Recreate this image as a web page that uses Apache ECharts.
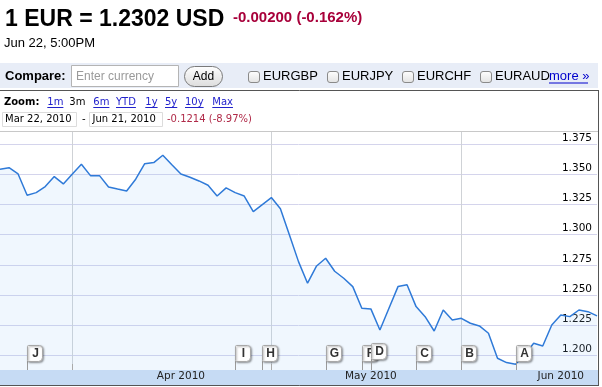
<!DOCTYPE html>
<html><head><meta charset="utf-8">
<script src="https://cdn.jsdelivr.net/npm/echarts@6/dist/echarts.min.js"></script>
<style>html,body{margin:0;padding:0;background:#fff;overflow:hidden}#c{width:602px;height:387px}</style>
</head><body><div id="c"></div>
<script>
// ---- data ----
const categories = ['Mar 22','Mar 23','Mar 24','Mar 25','Mar 26','Mar 29','Mar 30','Mar 31',
 'Apr 1','Apr 2','Apr 5','Apr 6','Apr 7','Apr 8','Apr 9','Apr 12','Apr 13','Apr 14','Apr 15','Apr 16','Apr 19','Apr 20','Apr 21','Apr 22','Apr 23','Apr 26','Apr 27','Apr 28','Apr 29','Apr 30',
 'May 3','May 4','May 5','May 6','May 7','May 10','May 11','May 12','May 13','May 14','May 17','May 18','May 19','May 20','May 21','May 24','May 25','May 26','May 27','May 28','May 31',
 'Jun 1','Jun 2','Jun 3','Jun 4','Jun 7','Jun 8','Jun 9','Jun 10','Jun 11','Jun 14','Jun 15','Jun 16','Jun 17','Jun 18','Jun 21','Jun 22'];
const rates = [1.3542,1.3556,1.3504,1.3327,1.3349,1.3399,1.3482,1.3421,
 1.3504,1.3584,1.3490,1.3490,1.3396,1.3379,1.3363,1.3460,1.3589,1.3598,1.3659,1.3581,1.3504,1.3476,1.3446,1.3410,1.3321,1.3388,1.3349,1.3321,1.3192,1.3250,
 1.3308,1.3216,1.2998,1.2777,1.2598,1.2741,1.2805,1.2697,1.2639,1.2570,1.2390,1.2385,1.2210,1.2390,1.2570,1.2586,1.2404,1.2321,1.2202,1.2376,1.2293,
 1.2307,1.2266,1.2244,1.2183,1.1976,1.1940,1.1926,1.2005,1.2100,1.2078,1.2252,1.2335,1.2321,1.2376,1.2362,1.2327];
const yMin = 1.175, yMax = 1.386, yStep = 0.025;
const monthStarts = ['Apr 1','May 3','Jun 1'];
const monthLabels = ['Apr 2010','May 2010','Jun 2010'];
const monthLabelPos = [19.85, 41.4, 62];
const flagLetters = ['J','I','H','G','F','D','C','B','A'];
const flagDates = ['Mar 25','Apr 27','Apr 30','May 11','May 17','May 18','May 25','Jun 1','Jun 9'];
const zoomLinks = ['1m','3m','6m','YTD','1y','5y','10y','Max'];
const compareSymbols = ['EURGBP','EURJPY','EURCHF','EURAUD'];
const headline = '1 EUR = 1.2302 USD';
const headChange = '-0.00200 (-0.162%)';
const headTime = 'Jun 22, 5:00PM';
const rangeFrom = 'Mar 22, 2010', rangeTo = 'Jun 21, 2010', rangeChange = '-0.1214 (-8.97%)';

// ---- build ----
const monthStartIdx = monthStarts.map(d => categories.indexOf(d));
const flagIdx = flagDates.map(d => categories.indexOf(d));
const SANS = '"Liberation Sans", Arial, sans-serif';
const VER = '"DejaVu Sans", Verdana, sans-serif';
function T(text, x, y, font, fill, align) {
  return {type:'text', z:50, style:{text:text, x:x, y:y, font:font, fill:fill||'#000', align:align||'left', verticalAlign:'middle'}, silent:true};
}
const g = [];
g.push(T(headline, 5, 19.3, 'bold 23px ' + SANS, '#000'));
g.push(T(headChange, 233, 18.3, 'bold 15px ' + SANS, '#a8003a'));
g.push(T(headTime, 4, 43.2, '13px ' + SANS, '#000'));
// compare bar
g.push({type:'rect', z:40, shape:{x:0, y:63, width:598, height:25}, style:{fill:'#e8edf7'}});
g.push(T('Compare:', 5, 76.2, 'bold 13px ' + SANS, '#000'));
g.push({type:'rect', z:41, shape:{x:71.5, y:65.5, width:107, height:21}, style:{fill:'#fff', stroke:'#b4b4b4', lineWidth:1}});
g.push(T('Enter currency', 76, 76.2, '12px ' + SANS, '#9a9a9a'));
g.push({type:'rect', z:41, shape:{x:184.5, y:66.5, width:38, height:20, r:10},
  style:{fill:new echarts.graphic.LinearGradient(0,0,0,1,[{offset:0,color:'#ffffff'},{offset:1,color:'#dcdcdc'}]), stroke:'#7a7a7a', lineWidth:1}});
g.push(T('Add', 203.5, 76.8, '12px ' + SANS, '#000', 'center'));
const cbX = [248.5, 327.5, 402.5, 480.5];
compareSymbols.forEach((s, i) => {
  g.push({type:'rect', z:41, shape:{x:cbX[i], y:71.5, width:11, height:11, r:2.5},
    style:{fill:new echarts.graphic.LinearGradient(0,0,0,1,[{offset:0,color:'#ffffff'},{offset:1,color:'#e2e2e2'}]), stroke:'#8a8a8a', lineWidth:1}});
  g.push(T(s, cbX[i] + 14.5, 76.2, '13px ' + SANS, '#000'));
});
g.push(T('more »', 549, 76.2, '13px ' + SANS, '#0000cc'));
g.push({type:'line', z:41, shape:{x1:549, y1:83, x2:588, y2:83}, style:{stroke:'#0000cc', lineWidth:1}});
// separator
g.push({type:'line', z:41, shape:{x1:0, y1:90.5, x2:599, y2:90.5}, style:{stroke:'#555', lineWidth:1}});
// zoom row
g.push(T('Zoom:', 4, 102, 'bold 10px ' + VER, '#000'));
const zoomX = [47.3, 69.3, 93.3, 116, 145.3, 165, 185, 212.3];
zoomLinks.forEach((s, i) => {
  const link = s !== '3m';
  g.push(T(s, zoomX[i], 102, '10px ' + VER, link ? '#2222cc' : '#000'));
  if (link) {
    const w = echarts.format.getTextRect ? echarts.format.getTextRect(s, '10px ' + VER).width : s.length * 6.5;
    g.push({type:'line', z:41, shape:{x1:zoomX[i], y1:107.5, x2:zoomX[i] + w, y2:107.5}, style:{stroke:'#2222cc', lineWidth:1}});
  }
});
// date range row
g.push({type:'rect', z:41, shape:{x:2.5, y:112.5, width:74, height:14}, style:{fill:'#fff', stroke:'#dcdcdc', lineWidth:1}});
g.push(T(rangeFrom, 5, 119.3, '10px ' + VER, '#000'));
g.push(T('-', 82, 119.3, '10px ' + VER, '#000'));
g.push({type:'rect', z:41, shape:{x:89.5, y:112.5, width:73, height:14}, style:{fill:'#fff', stroke:'#dcdcdc', lineWidth:1}});
g.push(T(rangeTo, 92.5, 119.3, '10px ' + VER, '#000'));
g.push(T(rangeChange, 167, 119.3, '10px ' + VER, '#b02a48'));
// chart frame
g.push({type:'line', z:9, shape:{x1:0, y1:131.5, x2:598, y2:131.5}, style:{stroke:'#c8c8c8', lineWidth:1}});
g.push({type:'rect', z:10, shape:{x:0, y:370, width:598, height:15}, style:{fill:'#c6dbf4'}});
g.push({type:'line', z:11, shape:{x1:0, y1:385.5, x2:599, y2:385.5}, style:{stroke:'#555', lineWidth:1}});
g.push({type:'line', z:11, shape:{x1:598.5, y1:90, x2:598.5, y2:386}, style:{stroke:'#555', lineWidth:1}});

const chart = echarts.init(document.getElementById('c'), null, {renderer:'canvas'});
chart.setOption({
  animation:false,
  grid:{left:0, right:5, top:131, bottom:1.5},
  xAxis:{type:'category', data:categories, boundaryGap:false,
    axisLine:{show:false}, axisTick:{show:false}, axisLabel:{show:false},
    splitLine:{show:true, interval:(i) => monthStartIdx.indexOf(i) >= 0, lineStyle:{color:'#cfd2d6', width:1}}},
  yAxis:{type:'value', position:'right', min:yMin, max:yMax, interval:yStep,
    axisLine:{show:false}, axisTick:{show:false},
    axisLabel:{inside:true, margin:5, align:'right', verticalAlign:'bottom', lineHeight:12,
      showMinLabel:false, showMaxLabel:false, color:'#000', fontFamily:'DejaVu Sans', fontSize:10.5,
      formatter:(v) => v.toFixed(3)},
    splitLine:{lineStyle:{color:'#d4d4ec', width:1}}},
  graphic:g,
  series:[
    {type:'line', data:rates, showSymbol:false, z:3,
      lineStyle:{color:'#2f7ad8', width:1.5},
      areaStyle:{color:'rgba(160,205,250,0.22)'}},
    {type:'custom', z:12, data:monthStartIdx.map(i => [i, yMin]), silent:true,
      renderItem:(params, api) => {
        const x = Math.round(api.coord([api.value(0), yMin])[0]) + 0.5;
        const cs = params.coordSys; const bandTop = cs.y + cs.height - 15.5;
        return {type:'line', shape:{x1:x, y1:bandTop - 6, x2:x, y2:bandTop}, style:{stroke:'#aaa', lineWidth:1}};
      }},
    {type:'custom', z:14, data:monthLabelPos.map(p => [p, yMin]), silent:true,
      renderItem:(params, api) => {
        const x = api.coord([api.value(0), yMin])[0];
        const cs = params.coordSys; const bottom = cs.y + cs.height;
        return {type:'text', style:{text:monthLabels[params.dataIndex], x:x, y:bottom - 9.2, align:'center', verticalAlign:'middle',
          font:'10.5px "DejaVu Sans"', fill:'#222'}};
      }},
    {type:'custom', z:13, data:flagIdx.map(i => [i, yMin]), silent:true,
      renderItem:(params, api) => {
        const i = params.dataIndex;
        const x = Math.round(api.coord([api.value(0), yMin])[0]);
        const cs = params.coordSys; const bandTop = cs.y + cs.height - 15.5;
        const lift = (i > 0 && flagIdx[i] - flagIdx[i-1] <= 1) ? 2 : 0;
        const top = bandTop - 25 - lift;
        return {type:'group', children:[
          {type:'line', shape:{x1:x + 0.5, y1:top + 16, x2:x + 0.5, y2:bandTop}, style:{stroke:'#9a9a9a', lineWidth:1}},
          {type:'rect', shape:{x:x + 0.5, y:top + 0.5, width:15, height:16, r:[1,3,4,1]},
            style:{fill:'#fff', stroke:'#a8a8a8', lineWidth:1, shadowBlur:2, shadowOffsetX:1, shadowOffsetY:1, shadowColor:'rgba(0,0,0,0.35)'}},
          {type:'text', style:{text:flagLetters[i], x:x + 8.5, y:top + 9, align:'center', verticalAlign:'middle',
            font:'bold 12px "Liberation Sans"', fill:'#333'}}
        ]};
      }}
  ]
});
</script>
</body></html>
